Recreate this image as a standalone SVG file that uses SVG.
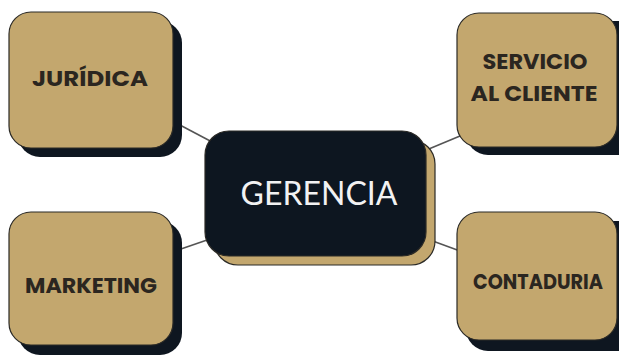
<svg xmlns="http://www.w3.org/2000/svg" width="619" height="356" viewBox="0 0 619 356">
<style>
.gold{fill:#c3a76e;stroke:#2b2a26;stroke-width:1.2}
.gshadow{fill:#0e1620}
.dark{fill:#0d1620;stroke:#2b2a26;stroke-width:1.2}
.dshadow{fill:#c3a76e;stroke:#2b2a26;stroke-width:1.2}
.lbl{font-family:"Poppins","Montserrat","Liberation Sans",Arial,sans-serif;font-weight:bold;font-size:21px;fill:#2b2620;text-anchor:middle}
.main{font-family:"Lato","Liberation Sans",Arial,sans-serif;font-size:32px;fill:#f2f2f2;text-anchor:middle}
.conn line{stroke:#555;stroke-width:1.6}
</style>
<rect width="619" height="356" fill="#ffffff"/>
<g class="conn" id="connectors">
<line x1="178" y1="124" x2="214" y2="143"/>
<line x1="178" y1="250" x2="210" y2="239"/>
<line x1="424" y1="151" x2="460" y2="136"/>
<line x1="430" y1="240" x2="460" y2="251"/>
</g>
<g id="juridica">
<rect class="gshadow" x="18" y="21" width="164" height="136" rx="22"/>
<rect class="gold" x="9" y="12" width="164" height="136" rx="22"/>
<text class="lbl" x="90" y="86" font-size="23" textLength="116" lengthAdjust="spacingAndGlyphs">JURÍDICA</text>
</g>
<g id="servicio">
<path class="gshadow" d="M488,21 H619 V155 H488 A22,22 0 0 1 466,133 V43 A22,22 0 0 1 488,21 Z"/>
<rect class="gold" x="457" y="13" width="160" height="134" rx="22"/>
<text class="lbl" x="535" y="69" font-size="20" textLength="105" lengthAdjust="spacingAndGlyphs">SERVICIO</text>
<text class="lbl" x="534" y="101" font-size="20" textLength="127" lengthAdjust="spacingAndGlyphs">AL CLIENTE</text>
</g>
<g id="marketing">
<rect class="gshadow" x="18" y="221" width="164" height="134" rx="22"/>
<rect class="gold" x="9" y="212" width="164" height="133" rx="22"/>
<text class="lbl" x="91" y="293" font-size="21" textLength="132" lengthAdjust="spacingAndGlyphs">MARKETING</text>
</g>
<g id="contaduria">
<path class="gshadow" d="M488,221 H619 V351 H488 A22,22 0 0 1 466,329 V243 A22,22 0 0 1 488,221 Z"/>
<rect class="gold" x="457" y="212" width="160" height="128" rx="22"/>
<text class="lbl" x="538" y="289" font-size="19.5" textLength="130" lengthAdjust="spacingAndGlyphs">CONTADURIA</text>
</g>
<g id="gerencia">
<rect class="dshadow" x="214" y="140" width="221" height="125" rx="24"/>
<rect class="dark" x="205" y="131" width="221" height="125" rx="24"/>
<text class="main" x="319" y="205">GERENCIA</text>
</g>
</svg>
